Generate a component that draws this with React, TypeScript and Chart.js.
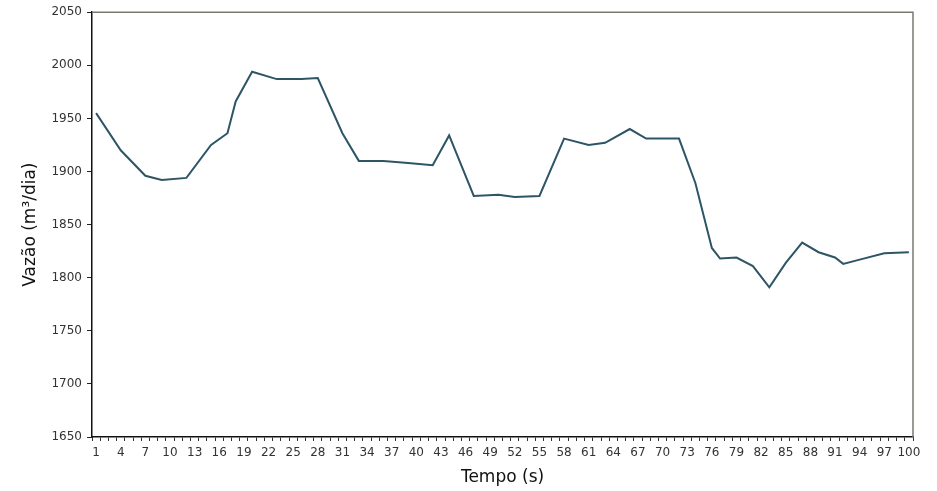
import React, { useEffect, useRef } from "react";
import { Chart, registerables } from "chart.js";

Chart.register(...registerables);

// Time steps (s) shown on the category axis
const timeLabels: string[] = Array.from({ length: 100 }, (_, i) => String(i + 1));

// Measured samples: time step and flow (m³/dia)
const sampleTimes: number[] = [
  1, 4, 7, 9, 12, 15, 17, 18, 20, 23, 26, 28, 31, 33, 36, 39, 42, 44, 47, 50, 52,
  55, 58, 61, 63, 66, 68, 72, 74, 76, 77, 79, 81, 83, 85, 87, 89, 91, 92, 94, 97, 100,
];
const flowValues: number[] = [
  1955, 1920, 1896, 1892, 1894, 1925, 1936, 1966, 1994, 1987, 1987, 1988, 1936, 1910,
  1910, 1908, 1906, 1934, 1877, 1878, 1876, 1877, 1931, 1925, 1927, 1940, 1931, 1931,
  1889, 1828, 1818, 1819, 1811, 1791, 1814, 1833, 1824, 1819, 1813, 1817, 1823, 1824,
];

const yMin = 1650;
const yMax = 2050;
const yStep = 50;

const FONT = "'DejaVu Sans', Verdana, sans-serif";

// Gray frame along the top and right of the plot area
const frameLines = {
  id: "frameLines",
  afterDraw(chart: Chart) {
    const { ctx, chartArea } = chart;
    ctx.save();
    ctx.strokeStyle = "#7a7a72";
    ctx.lineWidth = 1.5;
    ctx.beginPath();
    ctx.moveTo(chartArea.left, chartArea.top);
    ctx.lineTo(chartArea.right, chartArea.top);
    ctx.lineTo(chartArea.right, chartArea.bottom);
    ctx.stroke();
    ctx.restore();
  },
};

export default function App() {
  const canvasRef = useRef<HTMLCanvasElement | null>(null);

  useEffect(() => {
    document.body.style.margin = "0";
    const canvas = canvasRef.current;
    if (!canvas) return;

    const series: (number | null)[] = timeLabels.map(() => null);
    sampleTimes.forEach((t, i) => {
      series[t - 1] = flowValues[i];
    });

    const chart = new Chart(canvas, {
      type: "line",
      data: {
        labels: timeLabels,
        datasets: [
          {
            data: series,
            borderColor: "#2e5566",
            borderWidth: 2,
            pointRadius: 0,
            tension: 0,
            spanGaps: true,
          },
        ],
      },
      plugins: [frameLines],
      options: {
        responsive: false,
        animation: false,
        layout: { padding: { left: 0, top: 8, right: 24, bottom: 0 } },
        plugins: {
          legend: { display: false },
          tooltip: { enabled: false },
        },
        scales: {
          x: {
            type: "category",
            offset: true,
            grid: {
              offset: true,
              drawOnChartArea: false,
              drawTicks: true,
              tickLength: 4,
              color: "#333",
            },
            border: { color: "#111", width: 1.5 },
            ticks: {
              autoSkip: false,
              maxRotation: 0,
              minRotation: 0,
              padding: 5,
              color: "#333",
              font: { family: FONT, size: 12 },
              callback: (_v: any, idx: number) => (idx % 3 === 0 ? timeLabels[idx] : ""),
            },
            title: {
              display: true,
              text: "Tempo (s)",
              color: "#111",
              font: { family: FONT, size: 17 },
              padding: { top: 0, bottom: 3 },
            },
            afterFit: (scale: any) => {
              scale.height = 54;
            },
          },
          y: {
            min: yMin,
            max: yMax,
            grid: {
              drawOnChartArea: false,
              drawTicks: true,
              tickLength: 5,
              color: "#222",
            },
            border: { color: "#111", width: 1.5 },
            ticks: {
              stepSize: yStep,
              padding: 5,
              color: "#333",
              font: { family: FONT, size: 12 },
              callback: (v: any) => String(v),
            },
            title: {
              display: true,
              text: "Vazão (m³/dia)",
              color: "#111",
              font: { family: FONT, size: 17 },
              padding: { top: 20, bottom: 0 },
            },
            afterFit: (scale: any) => {
              scale.width = 92;
            },
          },
        },
      },
    });

    return () => chart.destroy();
  }, []);

  return (
    <div style={{ width: 937, height: 491, background: "#fff" }}>
      <canvas ref={canvasRef} width={937} height={491} />
    </div>
  );
}
